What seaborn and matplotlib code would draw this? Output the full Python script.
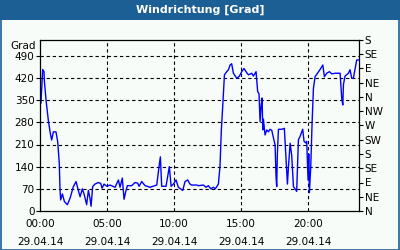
import matplotlib
matplotlib.use("Agg")
import matplotlib.pyplot as plt
import seaborn as sns
import pandas as pd
from matplotlib.ticker import MultipleLocator, FixedLocator
from matplotlib.patches import Rectangle

# ---- data ----
hours = [0.07, 0.20, 0.30, 0.32, 0.45, 0.62, 0.75, 0.87, 1.00, 1.19, 1.32, 1.44, 1.49, 1.54,
         1.67, 1.82, 2.04, 2.24, 2.49, 2.69, 2.86, 2.99, 3.16, 3.31, 3.48, 3.61, 3.73, 3.81,
         3.93, 4.10, 4.35, 4.53, 4.63, 4.78, 4.98, 5.22, 5.60, 5.85, 5.97, 6.14, 6.27, 6.42,
         6.52, 6.84, 7.09, 7.29, 7.39, 7.59, 7.84, 8.21, 8.71, 8.88, 8.98, 9.08, 9.40, 9.65,
         9.78, 9.95, 10.15, 10.32, 10.65, 10.82, 11.02, 11.19, 11.32, 11.69, 11.82, 12.19,
         12.39, 12.56, 12.74, 12.94, 13.08, 13.31, 13.43, 13.53, 13.63, 13.76, 13.93, 14.06,
         14.18, 14.30, 14.43, 14.68, 14.88, 15.05, 15.22, 15.42, 15.55, 15.80, 15.92, 16.12,
         16.24, 16.34, 16.42, 16.49, 16.57, 16.62, 16.67, 16.79, 16.92, 17.04, 17.16, 17.29,
         17.54, 17.61, 17.66, 17.71, 17.79, 18.04, 18.23, 18.36, 18.46, 18.53, 18.66, 18.78,
         18.91, 19.03, 19.15, 19.28, 19.40, 19.60, 19.70, 19.83, 19.90, 20.00, 20.05, 20.10,
         20.20, 20.30, 20.40, 20.52, 20.70, 20.90, 21.10, 21.22, 21.39, 21.59, 21.77, 22.02,
         22.39, 22.51, 22.59, 22.64, 22.76, 23.01, 23.13, 23.26, 23.38, 23.51, 23.63, 23.76]
degrees = [340, 447, 440, 414, 350, 287, 250, 224, 250, 250, 219, 150, 72, 35,
           54, 30, 20, 40, 77, 93, 65, 45, 70, 50, 20, 65, 40, 15,
           77, 85, 90, 87, 72, 85, 78, 82, 75, 98, 75, 104, 37, 65,
           80, 80, 90, 88, 78, 93, 80, 75, 82, 140, 171, 78, 78, 140,
           78, 85, 98, 75, 65, 93, 98, 85, 82, 82, 80, 82,
           75, 80, 70, 75, 70, 85, 142, 256, 329, 430, 440, 446,
           461, 465, 435, 419, 426, 440, 450, 437, 430, 435, 426, 440,
           377, 370, 282, 330, 357, 256, 290, 240, 256, 250, 258, 255,
           208, 108, 77, 180, 258, 258, 261, 161, 85, 135, 214, 175,
           77, 70, 62, 225, 235, 258, 220, 215, 220, 98, 180, 58,
           140, 278, 387, 424, 435, 447, 461, 424, 435, 440, 433, 435,
           435, 357, 335, 400, 426, 435, 446, 419, 419, 450, 477, 477]

left_ticks = [0, 70, 140, 210, 280, 350, 420, 490]
right_ticks = [0, 45, 90, 135, 180, 225, 270, 315, 360, 405, 450, 495, 540]
right_labels = ["N", "NE", "E", "SE", "S", "SW", "W", "NW", "N", "NE", "E", "SE", "S"]
x_ticks = [0, 5, 10, 15, 20]
x_labels = ["00:00\n29.04.14", "05:00\n29.04.14", "10:00\n29.04.14",
            "15:00\n29.04.14", "20:00\n29.04.14"]
title = "Windrichtung [Grad]"
unit = "Grad"

df = pd.DataFrame({"h": hours, "deg": degrees})

sns.set_style("white")
plt.rcParams["font.family"] = ["DejaVu Sans"]

BG = "#f8fcf8"
BLUE = "#1c5f95"

fig = plt.figure(figsize=(4, 2.5), dpi=100, facecolor=BG)
ax = fig.add_axes([40/400, 1-211/250, 319/400, 171/250])
ax.set_facecolor(BG)

sns.lineplot(data=df, x="h", y="deg", ax=ax, color="#0000ff", lw=1.0, estimator=None, sort=False)

ax.set_xlim(0, 23.8)
ax.set_ylim(0, 540)
ax.set_xlabel("")
ax.set_ylabel("")

for s in ax.spines.values():
    s.set_color("black")
    s.set_linewidth(0.9)

ax.yaxis.set_major_locator(FixedLocator(left_ticks))
ax.set_yticklabels([str(v) for v in left_ticks])
ax.tick_params(axis="y", direction="out", length=3, width=0.8, labelsize=7.5, pad=1, colors="black")

ax.xaxis.set_major_locator(FixedLocator(x_ticks))
ax.set_xticklabels(x_labels)
ax.xaxis.set_minor_locator(MultipleLocator(1))
ax.tick_params(axis="x", which="both", direction="in", length=3, width=0.8, labelsize=7.5, pad=6, colors="black")
for lab in ax.get_xticklabels():
    lab.set_linespacing(1.9)

dash = (0, (3, 2.5))
for v in left_ticks[1:]:
    ax.axhline(v, color="black", lw=0.8, linestyle=dash, zorder=0.5)
for v in x_ticks[1:]:
    ax.axvline(v, color="black", lw=0.8, linestyle=dash, zorder=0.5)

ax.text(-0.012, 522, unit, transform=ax.get_yaxis_transform(), ha="right", va="center",
        fontsize=7.5, color="black")

ax2 = ax.twinx()
ax2.set_ylim(0, 540)
ax2.yaxis.set_major_locator(FixedLocator(right_ticks))
ax2.set_yticklabels(right_labels)
ax2.tick_params(axis="y", direction="out", length=3, width=0.8, labelsize=7.5, pad=1, colors="black")
for s in ax2.spines.values():
    s.set_visible(False)
ax2.grid(False)

# title bar and border
fig.patches.append(Rectangle((0, 1-20/250), 1, 20/250, transform=fig.transFigure,
                             facecolor=BLUE, edgecolor="none", zorder=0))
fig.patches.append(Rectangle((0.0015, 0.002), 0.997, 0.996, transform=fig.transFigure,
                             facecolor="none", edgecolor=BLUE, lw=1.2, zorder=5))
fig.text(0.5, 1-10/250, title, ha="center", va="center", color="white",
         fontsize=8, fontweight="bold")

fig.savefig("out.png", dpi=100, facecolor=BG)
